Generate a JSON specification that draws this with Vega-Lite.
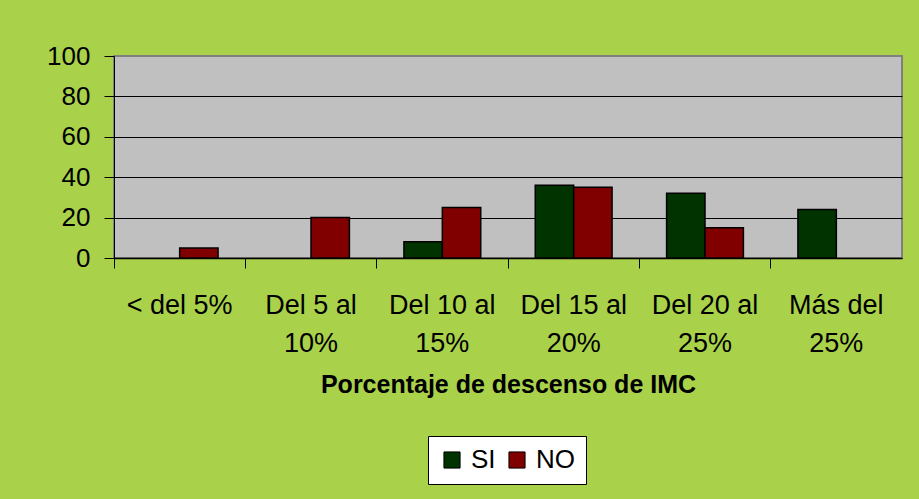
{
  "$schema": "https://vega.github.io/schema/vega-lite/v6.json",
  "width": 788,
  "height": 202,
  "autosize": {"type": "none"},
  "padding": {"left": 114, "top": 56, "right": 17, "bottom": 241},
  "background": "#A9D24A",
  "data": {
    "values": [
      {"cat": "< del 5%", "grupo": "NO", "valor": 5},
      {"cat": "Del 5 al 10%", "grupo": "NO", "valor": 20},
      {"cat": "Del 10 al 15%", "grupo": "SI", "valor": 8},
      {"cat": "Del 10 al 15%", "grupo": "NO", "valor": 25},
      {"cat": "Del 15 al 20%", "grupo": "SI", "valor": 36},
      {"cat": "Del 15 al 20%", "grupo": "NO", "valor": 35},
      {"cat": "Del 20 al 25%", "grupo": "SI", "valor": 32},
      {"cat": "Del 20 al 25%", "grupo": "NO", "valor": 15},
      {"cat": "Más del 25%", "grupo": "SI", "valor": 24}
    ]
  },
  "mark": {"type": "bar", "stroke": "black", "strokeWidth": 1.5},
  "encoding": {
    "x": {
      "field": "cat",
      "type": "nominal",
      "sort": ["< del 5%", "Del 5 al 10%", "Del 10 al 15%", "Del 15 al 20%", "Del 20 al 25%", "Más del 25%"],
      "scale": {"paddingInner": 0, "paddingOuter": 0},
      "axis": {
        "title": "Porcentaje de descenso de IMC",
        "titleFont": "Liberation Sans",
        "titleFontSize": 25,
        "titleFontWeight": "bold",
        "titleColor": "black",
        "titlePadding": 16,
        "labelAngle": 0,
        "labelFont": "Liberation Sans",
        "labelFontSize": 27,
        "labelColor": "black",
        "labelBaseline": "top",
        "labelPadding": 24,
        "labelLineHeight": 38,
        "labelExpr": "datum.value == '< del 5%' ? datum.label : [slice(datum.label, 0, lastindexof(datum.label, ' ')), slice(datum.label, lastindexof(datum.label, ' ') + 1)]",
        "bandPosition": 0,
        "tickSize": 10,
        "tickColor": "black",
        "domainColor": "black",
        "domainWidth": 1.5,
        "grid": false
      }
    },
    "xOffset": {
      "field": "grupo",
      "type": "nominal",
      "scale": {"domain": ["SI", "NO"], "paddingInner": 0, "paddingOuter": 0.71}
    },
    "y": {
      "field": "valor",
      "type": "quantitative",
      "scale": {"domain": [0, 100], "nice": false},
      "axis": {
        "title": null,
        "values": [0, 20, 40, 60, 80, 100],
        "labelFont": "Liberation Sans",
        "labelFontSize": 26,
        "labelColor": "black",
        "labelPadding": 14,
        "tickSize": 10,
        "tickColor": "black",
        "domainColor": "black",
        "grid": true,
        "gridColor": {"condition": {"test": "datum.value == 100", "value": "#808080"}, "value": "black"},
        "gridOpacity": 1,
        "gridWidth": 1.2
      }
    },
    "color": {
      "field": "grupo",
      "type": "nominal",
      "scale": {"domain": ["SI", "NO"], "range": ["#003300", "#800000"]},
      "legend": {
        "title": null,
        "orient": "none",
        "legendX": 314,
        "legendY": 380,
        "direction": "horizontal",
        "fillColor": "white",
        "strokeColor": "black",
        "padding": 11,
        "symbolType": "square",
        "symbolSize": 260,
        "symbolStrokeColor": "black",
        "symbolStrokeWidth": 1,
        "symbolOpacity": 1,
        "labelFont": "Liberation Sans",
        "labelFontSize": 26,
        "labelColor": "black",
        "labelOffset": 6,
        "columnPadding": 8
      }
    }
  },
  "config": {
    "view": {"fill": "#C0C0C0", "stroke": "#808080", "strokeWidth": 2},
    "axis": {"domainOpacity": 1}
  }
}
